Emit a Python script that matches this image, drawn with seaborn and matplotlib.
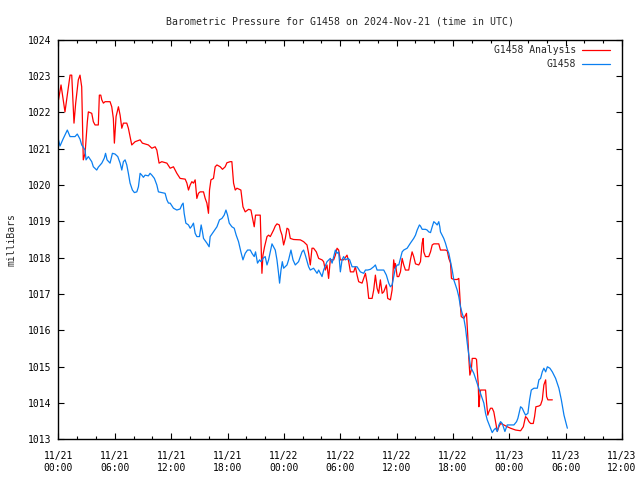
import pandas as pd
import seaborn as sns
import matplotlib.pyplot as plt
import matplotlib.dates as mdates

# Hours after 2024-11-21 00:00 UTC and pressure in milliBars
analysis_hours = [
    0.00, 0.27, 0.69, 1.23, 1.41, 1.65, 1.83, 2.11, 2.29, 2.47, 2.64, 2.83, 3.07, 3.18,
    3.54, 3.71, 3.89, 4.24, 4.35, 4.50, 4.61, 4.78, 4.96, 5.49, 5.67, 5.84, 5.95, 6.13,
    6.38, 6.56, 6.74, 6.91, 7.27, 7.44, 7.62, 7.80, 8.16, 8.69, 8.93, 9.57, 9.94, 10.29,
    10.47, 10.71, 11.00, 11.54, 11.89, 12.24, 12.60, 12.95, 13.49, 13.67, 13.84, 14.02,
    14.20, 14.37, 14.55, 14.73, 14.90, 15.08, 15.44, 15.62, 15.80, 15.97, 16.08, 16.23,
    16.50, 16.68, 16.87, 17.22, 17.46, 17.75, 17.93, 18.28, 18.46, 18.64, 18.82, 19.00,
    19.42, 19.64, 19.88, 20.24, 20.49, 20.70, 20.84, 20.98, 21.48, 21.66, 21.77, 21.94,
    22.20, 22.37, 22.55, 22.73, 22.90, 23.08, 23.26, 23.51, 23.62, 23.80, 23.97, 24.15,
    24.33, 24.50, 24.68, 25.03, 25.75, 26.10, 26.46, 26.63, 26.81, 26.99, 27.16, 27.45,
    27.70, 28.06, 28.23, 28.41, 28.59, 28.76, 28.94, 29.30, 29.48, 29.66, 29.83, 30.01,
    30.36, 30.72, 30.90, 31.08, 31.43, 31.61, 31.79, 31.96, 32.32, 32.68, 32.86, 33.03,
    33.39, 33.56, 33.74, 33.92, 34.09, 34.27, 34.46, 34.63, 34.91, 35.05, 35.34, 35.52,
    35.69, 35.80, 35.87, 36.06, 36.23, 36.41, 36.59, 36.76, 36.94, 37.29, 37.47, 37.65,
    37.82, 38.01, 38.36, 38.54, 38.72, 38.83, 38.89, 39.07, 39.42, 39.61, 39.79, 39.96,
    40.49, 40.67, 41.20, 41.39, 41.56, 41.74, 41.84, 42.09, 42.45, 42.62, 42.73, 42.80,
    42.88, 43.16, 43.44, 43.58, 43.69, 43.80, 43.95, 44.05, 44.40, 44.51, 44.58, 44.69,
    44.76, 44.86, 44.94, 45.47, 45.58, 45.71, 45.82, 46.00, 46.18, 46.35, 46.54, 46.72,
    46.89, 47.07, 47.42, 47.78, 48.13, 48.67, 49.20, 49.49, 49.73, 49.91, 50.09, 50.27,
    50.55, 50.69, 50.83, 51.15, 51.33, 51.51, 51.68, 51.87, 51.97, 52.11, 52.58,
]
analysis_mbar = [
    1022.34, 1022.75, 1022.01, 1023.02, 1023.02, 1021.70, 1022.25, 1022.89, 1023.02, 1022.70,
    1020.69, 1020.87, 1021.74, 1022.01, 1021.97, 1021.74, 1021.65, 1021.65, 1022.47, 1022.47,
    1022.34, 1022.25, 1022.29, 1022.29, 1022.15, 1021.83, 1021.15, 1021.88, 1022.15, 1021.92,
    1021.56, 1021.70, 1021.70, 1021.56, 1021.33, 1021.10, 1021.19, 1021.24, 1021.15, 1021.10,
    1021.01, 1021.05, 1020.96, 1020.60, 1020.64, 1020.60, 1020.46, 1020.50, 1020.32, 1020.18,
    1020.16, 1020.05, 1019.86, 1020.00, 1020.09, 1020.05, 1020.14, 1019.63, 1019.77, 1019.81,
    1019.81, 1019.63, 1019.50, 1019.22, 1019.86, 1020.14, 1020.18, 1020.50, 1020.55, 1020.50,
    1020.43, 1020.50, 1020.61, 1020.64, 1020.64, 1020.05, 1019.86, 1019.91, 1019.86, 1019.40,
    1019.26, 1019.33, 1019.31, 1019.04, 1018.85, 1019.17, 1019.17, 1017.57, 1018.07, 1018.30,
    1018.58, 1018.62, 1018.58, 1018.67, 1018.76, 1018.87, 1018.93, 1018.90, 1018.76, 1018.62,
    1018.35, 1018.53, 1018.81, 1018.78, 1018.53, 1018.50, 1018.49, 1018.44, 1018.35, 1018.12,
    1017.80, 1018.26, 1018.26, 1018.16, 1017.98, 1017.94, 1017.89, 1017.66, 1017.80, 1017.43,
    1017.94, 1017.94, 1018.07, 1018.26, 1018.21, 1017.94, 1017.94, 1018.07, 1017.89, 1017.61,
    1017.61, 1017.75, 1017.52, 1017.34, 1017.30, 1017.57, 1017.30, 1016.88, 1016.88, 1017.11,
    1017.52, 1017.16, 1017.02, 1017.39, 1017.02, 1017.06, 1017.25, 1016.88, 1016.84, 1017.11,
    1017.94, 1017.71, 1017.84, 1017.48, 1017.48, 1017.61, 1017.98, 1017.80, 1017.66, 1017.66,
    1017.94, 1018.16, 1018.03, 1017.83, 1017.80, 1017.89, 1018.40, 1018.53, 1018.16, 1018.03,
    1018.03, 1018.16, 1018.35, 1018.38, 1018.38, 1018.21, 1018.21, 1018.19, 1017.98, 1017.85,
    1017.43, 1017.40, 1017.40, 1017.43, 1016.93, 1016.65, 1016.38, 1016.33, 1016.47, 1015.83,
    1015.23, 1014.77, 1014.91, 1015.23, 1015.23, 1015.20, 1014.91, 1014.54, 1013.90, 1014.18,
    1014.36, 1014.36, 1014.00, 1013.67, 1013.76, 1013.86, 1013.86, 1013.76, 1013.49, 1013.22,
    1013.35, 1013.44, 1013.40, 1013.35, 1013.31, 1013.26, 1013.24, 1013.35, 1013.63, 1013.58,
    1013.49, 1013.44, 1013.44, 1013.63, 1013.90, 1013.92, 1013.95, 1014.09, 1014.50, 1014.64,
    1014.18, 1014.09, 1014.09,
]

station_hours = [
    0.00, 0.16, 0.48, 0.94, 1.23, 1.76, 2.00, 2.29, 2.47, 2.83, 2.93, 3.18, 3.54, 3.71,
    4.07, 4.24, 4.61, 4.88, 5.01, 5.17, 5.49, 5.74, 6.02, 6.31, 6.56, 6.74, 6.91, 7.09,
    7.27, 7.44, 7.62, 7.87, 8.08, 8.34, 8.51, 8.69, 8.87, 9.04, 9.22, 9.57, 9.75, 9.94,
    10.21, 10.47, 10.64, 11.00, 11.35, 11.54, 11.71, 11.89, 12.24, 12.60, 12.95, 13.13,
    13.27, 13.38, 13.56, 13.84, 14.02, 14.20, 14.37, 14.55, 14.73, 15.01, 15.19, 15.33,
    15.44, 15.80, 16.04, 16.15, 16.50, 16.87, 17.14, 17.40, 17.64, 17.83, 18.00, 18.18,
    18.46, 18.71, 18.92, 19.17, 19.42, 19.64, 19.88, 20.13, 20.42, 20.60, 20.84, 20.98,
    21.19, 21.41, 21.56, 21.77, 22.01, 22.20, 22.37, 22.55, 22.73, 22.90, 23.08, 23.26,
    23.43, 23.54, 23.69, 23.83, 23.97, 24.33, 24.50, 24.75, 24.97, 25.21, 25.56, 25.93,
    26.10, 26.28, 26.63, 26.81, 27.16, 27.35, 27.53, 27.70, 28.06, 28.23, 28.59, 28.94,
    29.13, 29.48, 29.66, 29.83, 30.01, 30.19, 30.36, 30.54, 30.83, 31.00, 31.26, 31.79,
    32.14, 32.49, 32.68, 32.92, 33.21, 33.56, 33.74, 33.92, 34.27, 34.63, 34.91, 35.16,
    35.34, 35.52, 35.69, 35.87, 36.06, 36.23, 36.59, 36.76, 37.12, 37.47, 37.82, 38.01,
    38.19, 38.43, 38.54, 38.72, 39.07, 39.25, 39.42, 39.61, 39.79, 39.96, 40.14, 40.32,
    40.49, 40.60, 40.67, 40.85, 41.02, 41.20, 41.39, 41.56, 41.74, 41.92, 42.09, 42.27,
    42.45, 42.62, 42.80, 42.98, 43.16, 43.34, 43.52, 43.69, 43.87, 44.05, 44.22, 44.40,
    44.58, 44.93, 45.12, 45.29, 45.47, 45.65, 46.00, 46.18, 46.35, 46.54, 46.72, 46.89,
    47.07, 47.25, 47.42, 47.53, 47.78, 48.13, 48.49, 48.77, 48.91, 49.20, 49.38, 49.55,
    49.73, 49.98, 50.16, 50.34, 50.62, 50.98, 51.15, 51.33, 51.51, 51.68, 51.87, 52.05,
    52.32, 52.58, 52.93, 53.28, 53.54, 53.82, 54.18,
]
station_mbar = [
    1021.24, 1021.07, 1021.26, 1021.51, 1021.33, 1021.33, 1021.40, 1021.26, 1021.10, 1020.96,
    1020.69, 1020.78, 1020.64, 1020.50, 1020.41, 1020.49, 1020.60, 1020.74, 1020.87, 1020.69,
    1020.60, 1020.87, 1020.85, 1020.78, 1020.60, 1020.41, 1020.64, 1020.69, 1020.55, 1020.32,
    1020.05, 1019.86, 1019.79, 1019.81, 1019.95, 1020.32, 1020.27, 1020.21, 1020.27, 1020.25,
    1020.32, 1020.27, 1020.18, 1020.00, 1019.81, 1019.79, 1019.77, 1019.59, 1019.50, 1019.50,
    1019.36, 1019.31, 1019.34, 1019.45, 1019.50, 1019.22, 1018.95, 1018.90, 1018.81, 1018.87,
    1018.95, 1018.67, 1018.58, 1018.58, 1018.90, 1018.71, 1018.53, 1018.40, 1018.30, 1018.58,
    1018.71, 1018.85, 1019.04, 1019.08, 1019.17, 1019.31, 1019.17, 1018.95, 1018.85, 1018.81,
    1018.62, 1018.44, 1018.16, 1017.94, 1018.12, 1018.21, 1018.21, 1018.12, 1018.03, 1018.16,
    1017.85, 1017.94, 1017.89, 1017.98, 1018.03, 1017.80, 1017.94, 1018.16, 1018.38, 1018.30,
    1018.21, 1017.94, 1017.57, 1017.30, 1017.66, 1017.89, 1017.71, 1017.80, 1017.94, 1018.21,
    1017.94, 1017.80, 1017.89, 1018.16, 1018.21, 1018.07, 1017.75, 1017.66, 1017.71, 1017.64,
    1017.57, 1017.66, 1017.48, 1017.66, 1017.89, 1017.98, 1017.85, 1018.21, 1018.12, 1018.16,
    1017.61, 1017.94, 1018.03, 1017.94, 1017.98, 1017.94, 1017.75, 1017.75, 1017.61, 1017.57,
    1017.66, 1017.66, 1017.68, 1017.75, 1017.80, 1017.66, 1017.66, 1017.66, 1017.52, 1017.30,
    1017.20, 1017.25, 1017.48, 1017.71, 1017.80, 1017.80, 1018.16, 1018.21, 1018.26, 1018.40,
    1018.53, 1018.62, 1018.76, 1018.90, 1018.87, 1018.78, 1018.78, 1018.76, 1018.71, 1018.69,
    1018.85, 1018.99, 1018.95, 1018.90, 1018.99, 1018.85, 1018.71, 1018.62, 1018.53, 1018.40,
    1018.23, 1018.12, 1017.89, 1017.66, 1017.39, 1017.25, 1017.11, 1016.93, 1016.65, 1016.47,
    1016.33, 1016.06, 1015.65, 1015.32, 1015.00, 1014.91, 1014.82, 1014.68, 1014.54, 1014.27,
    1014.13, 1014.00, 1013.72, 1013.54, 1013.31, 1013.19, 1013.26, 1013.31, 1013.22, 1013.40,
    1013.49, 1013.44, 1013.31, 1013.22, 1013.40, 1013.40, 1013.40, 1013.49, 1013.58, 1013.90,
    1013.86, 1013.76, 1013.67, 1013.72, 1014.09, 1014.36, 1014.41, 1014.41, 1014.64, 1014.68,
    1014.86, 1014.96, 1014.86, 1015.00, 1014.96, 1014.86, 1014.68, 1014.41, 1014.09, 1013.67,
    1013.31,
]

series_names = ["G1458 Analysis", "G1458"]
series_colors = ["#ff0000", "#0a7ff0"]
start = pd.Timestamp("2024-11-21 00:00")

df = pd.concat([
    pd.DataFrame({"time": start + pd.to_timedelta(analysis_hours, unit="h"),
                  "mbar": analysis_mbar, "series": series_names[0]}),
    pd.DataFrame({"time": start + pd.to_timedelta(station_hours, unit="h"),
                  "mbar": station_mbar, "series": series_names[1]}),
], ignore_index=True)

sns.set_style("ticks")
plt.rcParams["font.family"] = ["DejaVu Sans Mono"]
plt.rcParams["font.size"] = 7

fig = plt.figure(figsize=(6.4, 4.8), dpi=100)
ax = fig.add_axes([0.0914, 0.0844, 0.8805, 0.8333])

sns.lineplot(data=df, x="time", y="mbar", hue="series", hue_order=series_names,
             palette=series_colors, estimator=None, sort=False, linewidth=0.9, ax=ax)

ax.set_xlim(start, start + pd.Timedelta(hours=60))
ax.set_ylim(1013, 1024)
ax.set_yticks(range(1013, 1025))
ax.xaxis.set_major_locator(mdates.HourLocator(byhour=[0, 6, 12, 18]))
ax.xaxis.set_minor_locator(mdates.HourLocator(interval=2))
ax.xaxis.set_major_formatter(mdates.DateFormatter("%m/%d\n%H:%M"))

ax.tick_params(which="both", direction="in", top=True, right=True, colors="black")
ax.tick_params(which="major", length=4.5, width=0.8)
ax.tick_params(which="minor", length=2.3, width=0.8)
ax.tick_params(axis="x", which="major", pad=8.5)
ax.tick_params(axis="y", which="major", pad=5)
for sp in ax.spines.values():
    sp.set_color("black")
    sp.set_linewidth(1.0)

ax.set_xlabel("")
ax.set_ylabel("milliBars", labelpad=8)
ax.set_title("Barometric Pressure for G1458 on 2024-Nov-21 (time in UTC)",
             fontsize=7.1, pad=11)

ax.legend(loc="upper right", bbox_to_anchor=(0.989, 1.0), frameon=False,
          markerfirst=False, handlelength=2.9, fontsize=7, borderaxespad=0.2,
          labelspacing=0.4, handletextpad=0.6)

fig.savefig("out.png", dpi=100)
